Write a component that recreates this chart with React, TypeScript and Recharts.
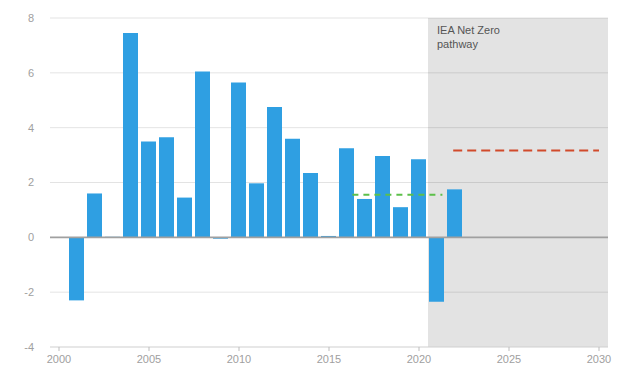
import React from "react";
import {
  ComposedChart,
  Bar,
  XAxis,
  YAxis,
  CartesianGrid,
  ReferenceArea,
  ReferenceLine,
} from "recharts";

const years = [2001, 2002, 2003, 2004, 2005, 2006, 2007, 2008, 2009, 2010, 2011, 2012, 2013, 2014, 2015, 2016, 2017, 2018, 2019, 2020, 2021, 2022];
const values = [-2.3, 1.6, 0.02, 7.45, 3.5, 3.65, 1.45, 6.05, -0.05, 5.65, 1.97, 4.75, 3.6, 2.35, 0.05, 3.25, 1.4, 2.97, 1.1, 2.85, -2.35, 1.75];

const greenX = [2016.3, 2021.3];
const greenY = [1.55, 1.55];
const orangeX = [2021.9, 2030];
const orangeY = [3.17, 3.17];

const xTicks = [2000, 2005, 2010, 2015, 2020, 2025, 2030];
const yTicks = [-4, -2, 0, 2, 4, 6, 8];
const shadeLabel = ["IEA Net Zero", "pathway"];

const barData = years.map((y, i) => ({ year: y, value: values[i] }));
const greenSeg = greenX.map((x, i) => ({ x, y: greenY[i] }));
const orangeSeg = orangeX.map((x, i) => ({ x, y: orangeY[i] }));

const FONT = "'Liberation Sans', Arial, sans-serif";
const tickStyle = { fontSize: 11, fill: "#a0a0a0", fontFamily: FONT };

const ShadeLabel = (props: any) => {
  const vb = props.viewBox || {};
  const x = (vb.x || 0) + 9;
  const y = (vb.y || 0) + 16;
  return (
    <text x={x} y={y} fontSize={11} fill="#555" fontFamily={FONT}>
      {shadeLabel.map((t, i) => (
        <tspan key={i} x={x} dy={i === 0 ? 0 : 14}>
          {t}
        </tspan>
      ))}
    </text>
  );
};

export default function App() {
  return (
    <div style={{ position: "absolute", left: 0, top: 0, background: "#fff" }}>
      <ComposedChart
        width={636}
        height={371}
        data={barData}
        margin={{ top: 18, right: 0, bottom: 0, left: 0 }}
      >
        <CartesianGrid
          horizontal={true}
          vertical={false}
          stroke="rgba(0,0,0,0.11)"
          horizontalValues={[-2, 2, 4, 6, 8]}
        />
        <XAxis
          dataKey="year"
          type="number"
          domain={[1999.5, 2030.5]}
          ticks={xTicks}
          allowDataOverflow
          height={24}
          tick={tickStyle}
          tickSize={4}
          tickMargin={4}
          axisLine={{ stroke: "#cfcfcf" }}
          tickLine={{ stroke: "#bdbdbd" }}
          interval={0}
        />
        <YAxis
          domain={[-4, 8]}
          ticks={yTicks}
          width={50}
          tick={tickStyle}
          axisLine={false}
          tickLine={false}
          tickMargin={10}
          interval={0}
        />
        <YAxis
          yAxisId="r"
          orientation="right"
          domain={[-4, 8]}
          ticks={yTicks}
          width={28}
          tick={tickStyle}
          axisLine={false}
          tickLine={false}
          tickMargin={10}
          interval={0}
        />
        <Bar dataKey="value" fill="#2f9fe2" barSize={15} isAnimationActive={false} />
        <ReferenceArea
          x1={2020.5}
          x2={2030.5}
          y1={-4}
          y2={8}
          fill="#000"
          fillOpacity={0.11}
          stroke="none"
          label={<ShadeLabel />}
        />
        <ReferenceLine y={0} stroke="#a0a0a0" strokeWidth={1.6} />
        <ReferenceLine
          segment={greenSeg}
          stroke="#5cc04a"
          strokeWidth={2}
          strokeDasharray="6 5"
        />
        <ReferenceLine
          segment={orangeSeg}
          stroke="#d14a2b"
          strokeWidth={2}
          strokeDasharray="9 5"
        />
      </ComposedChart>
    </div>
  );
}
